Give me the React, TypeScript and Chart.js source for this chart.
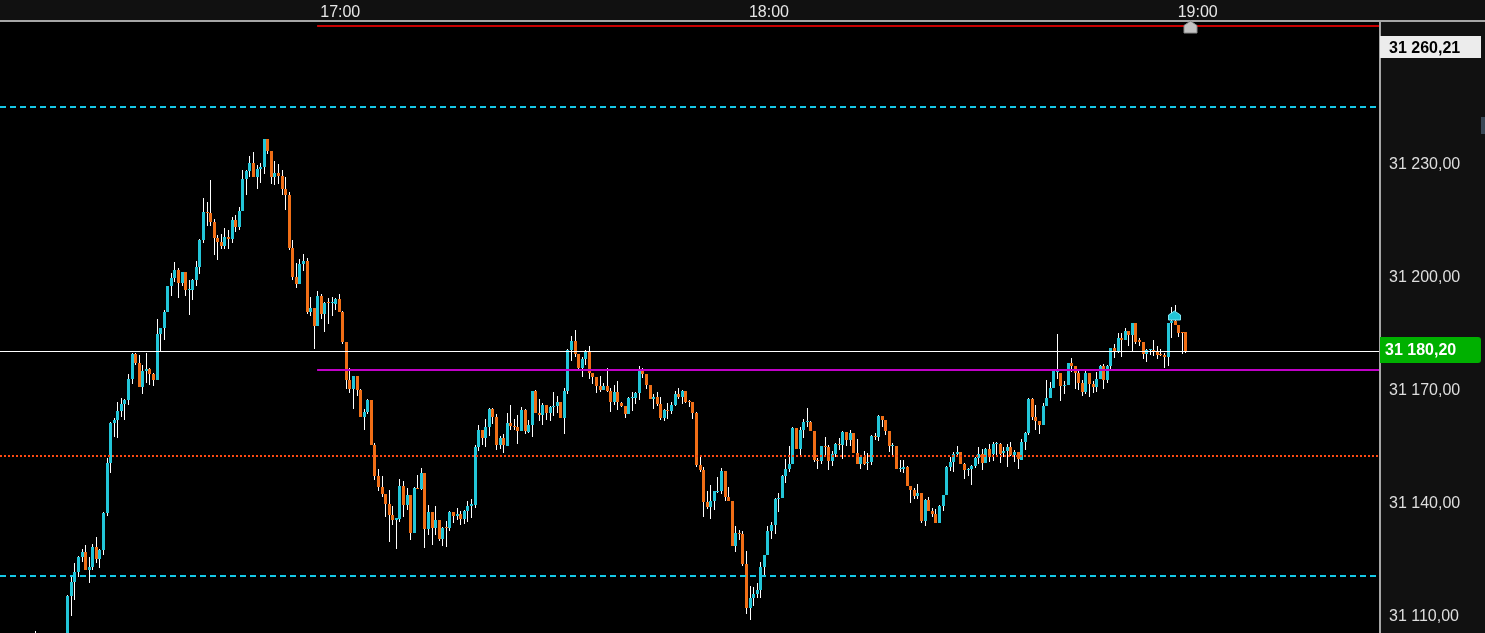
import React, { useEffect, useRef } from 'react';
import { Chart, registerables } from 'chart.js';

Chart.register(...registerables);

// ---- time axis: minutes after 16:00, 30-second bars ----
const firstBarMinute = 17.5; // 16:17:30
const barMinutes = 0.5;
const timeTicks = [60, 120, 180]; // 17:00, 18:00, 19:00

// ---- OHLC ----
const opens = [
  31104.0, 31102.5, 31099.5, 31098.0, 31099.0, 31100.5, 31099.0, 31097.5, 31098.5, 31101.5,
  31115.0, 31118.8, 31121.4, 31125.4, 31126.7, 31121.9, 31122.7, 31128.1, 31124.9, 31127.3,
  31137.1, 31150.4, 31161.0, 31161.8, 31164.2, 31166.0, 31167.1, 31172.7, 31179.3, 31176.9,
  31170.5, 31174.8, 31175.3, 31174.0, 31172.4, 31184.6, 31186.2, 31190.4, 31197.4, 31199.5,
  31201.6, 31198.1, 31201.1, 31196.3, 31196.3, 31198.9, 31202.4, 31209.6, 31217.0, 31216.7,
  31214.3, 31210.1, 31209.0, 31208.0, 31210.4, 31209.8, 31214.9, 31213.0, 31217.3, 31225.8,
  31227.9, 31230.0, 31226.3, 31228.4, 31228.9, 31236.4, 31233.2, 31226.3, 31227.4, 31226.6,
  31223.1, 31221.5, 31207.4, 31199.7, 31197.9, 31203.2, 31204.0, 31190.4, 31191.5, 31186.7,
  31194.7, 31189.9, 31193.1, 31192.8, 31192.6, 31193.9, 31190.4, 31182.5, 31172.4, 31170.0,
  31173.5, 31169.8, 31162.6, 31163.9, 31167.1, 31155.1, 31146.9, 31144.0, 31142.1, 31139.5,
  31136.6, 31135.2, 31135.5, 31144.3, 31139.2, 31141.9, 31131.8, 31143.7, 31143.5, 31147.7,
  31132.8, 31137.3, 31133.1, 31135.2, 31130.2, 31133.4, 31133.1, 31137.3, 31136.3, 31136.8,
  31135.5, 31137.6, 31138.9, 31139.2, 31154.6, 31159.1, 31157.0, 31159.9, 31164.7, 31162.6,
  31155.1, 31157.0, 31154.9, 31161.0, 31160.2, 31159.9, 31158.9, 31164.4, 31158.6, 31160.4,
  31169.5, 31163.6, 31163.1, 31165.8, 31163.6, 31165.2, 31165.5, 31166.6, 31162.3, 31169.5,
  31180.4, 31182.8, 31179.3, 31175.6, 31178.0, 31179.8, 31174.3, 31173.2, 31170.8, 31169.8,
  31170.8, 31169.5, 31166.6, 31169.2, 31166.3, 31165.5, 31163.4, 31167.6, 31167.6, 31168.9,
  31175.1, 31174.0, 31171.1, 31167.4, 31167.9, 31166.0, 31162.3, 31164.4, 31164.2, 31165.8,
  31168.7, 31167.9, 31169.5, 31166.8, 31166.6, 31163.6, 31149.8, 31148.5, 31140.0, 31138.7,
  31140.3, 31142.7, 31142.9, 31148.2, 31141.3, 31140.3, 31128.3, 31131.8, 31131.5, 31123.5,
  31111.9, 31114.5, 31115.6, 31116.7, 31122.7, 31125.9, 31132.3, 31133.9, 31140.8, 31141.1,
  31146.9, 31148.8, 31150.1, 31159.7, 31154.1, 31159.1, 31161.2, 31161.2, 31158.9, 31151.2,
  31150.9, 31154.9, 31154.6, 31150.9, 31152.7, 31155.4, 31155.1, 31158.6, 31156.5, 31158.3,
  31153.0, 31150.1, 31152.0, 31150.4, 31150.6, 31157.5, 31157.3, 31162.8, 31161.8, 31158.9,
  31154.9, 31154.9, 31148.8, 31148.8, 31149.3, 31144.3, 31143.2, 31141.6, 31142.4, 31135.0,
  31140.5, 31137.6, 31136.8, 31134.4, 31138.9, 31141.9, 31149.3, 31150.6, 31152.7, 31153.3,
  31150.1, 31148.5, 31148.8, 31149.6, 31151.7, 31152.7, 31150.4, 31154.1, 31152.7, 31155.4,
  31155.4, 31153.0, 31153.5, 31154.6, 31152.5, 31153.3, 31151.2, 31155.9, 31158.3, 31167.4,
  31162.6, 31161.5, 31160.4, 31165.5, 31167.6, 31170.3, 31174.5, 31174.3, 31170.8, 31171.1,
  31176.9, 31176.1, 31174.3, 31171.6, 31169.2, 31174.3, 31171.3, 31170.5, 31172.7, 31176.1,
  31172.4, 31176.1, 31180.9, 31180.1, 31183.5, 31183.0, 31185.4, 31184.3, 31187.5, 31183.0,
  31182.5, 31179.3, 31180.4, 31180.4, 31180.1, 31179.3, 31179.0, 31178.5, 31187.5, 31188.1,
  31187.0, 31185.1, 31185.1,
];

const highs = [
  31105.8, 31104.0, 31101.5, 31100.5, 31102.0, 31103.0, 31101.0, 31100.0, 31102.5, 31115.3,
  31120.4, 31123.8, 31125.7, 31127.5, 31128.6, 31125.4, 31128.9, 31130.7, 31127.5, 31137.3,
  31151.7, 31161.2, 31162.3, 31166.6, 31167.6, 31167.4, 31174.0, 31179.6, 31179.6, 31179.0,
  31176.4, 31179.6, 31175.6, 31174.3, 31188.5, 31186.2, 31191.0, 31197.4, 31200.8, 31203.7,
  31202.1, 31201.1, 31201.1, 31198.9, 31199.2, 31204.0, 31209.8, 31220.7, 31219.7, 31225.4,
  31215.1, 31210.9, 31211.2, 31212.8, 31212.2, 31215.7, 31216.2, 31218.3, 31228.2, 31228.2,
  31231.9, 31232.9, 31229.5, 31230.0, 31236.4, 31236.4, 31233.2, 31230.5, 31229.7, 31228.2,
  31226.3, 31222.3, 31209.6, 31203.5, 31204.5, 31205.8, 31204.8, 31194.4, 31191.5, 31196.0,
  31195.2, 31193.1, 31194.2, 31194.4, 31194.2, 31195.2, 31190.7, 31182.5, 31175.6, 31173.5,
  31173.5, 31170.0, 31164.7, 31167.4, 31167.1, 31155.7, 31148.8, 31146.9, 31142.1, 31143.2,
  31138.9, 31135.8, 31146.1, 31145.6, 31143.7, 31141.9, 31144.0, 31147.2, 31149.0, 31147.7,
  31139.2, 31137.3, 31138.9, 31135.2, 31133.4, 31135.0, 31137.6, 31137.3, 31138.4, 31137.6,
  31137.9, 31140.3, 31140.8, 31155.1, 31160.5, 31159.1, 31162.0, 31165.0, 31165.0, 31163.4,
  31157.5, 31158.1, 31163.6, 31165.8, 31162.0, 31163.1, 31165.2, 31164.7, 31161.8, 31169.5,
  31169.8, 31167.4, 31166.3, 31165.8, 31165.5, 31169.2, 31168.1, 31166.6, 31170.3, 31180.6,
  31184.1, 31185.7, 31179.3, 31178.5, 31180.4, 31181.4, 31174.3, 31173.2, 31173.5, 31171.6,
  31175.6, 31170.3, 31171.1, 31172.1, 31166.6, 31165.5, 31167.9, 31169.2, 31169.2, 31176.1,
  31175.6, 31174.0, 31171.1, 31168.7, 31169.2, 31167.9, 31164.7, 31166.3, 31166.6, 31169.5,
  31170.3, 31169.8, 31169.5, 31167.1, 31166.6, 31163.9, 31152.0, 31149.3, 31142.9, 31144.5,
  31142.9, 31146.6, 31149.0, 31148.2, 31144.0, 31140.3, 31133.6, 31132.6, 31132.3, 31127.0,
  31117.7, 31117.4, 31118.5, 31124.1, 31125.9, 31133.6, 31134.7, 31141.1, 31142.4, 31147.2,
  31151.4, 31154.9, 31159.9, 31159.7, 31159.9, 31162.0, 31165.0, 31161.5, 31158.9, 31151.7,
  31154.9, 31157.3, 31155.1, 31153.5, 31155.7, 31157.0, 31158.9, 31158.6, 31159.1, 31158.3,
  31156.7, 31152.2, 31153.5, 31153.0, 31157.8, 31158.3, 31163.1, 31162.8, 31161.8, 31158.9,
  31155.7, 31154.9, 31151.2, 31151.2, 31149.6, 31144.3, 31143.7, 31144.8, 31142.4, 31140.8,
  31141.3, 31138.4, 31138.1, 31139.2, 31141.9, 31149.6, 31152.0, 31153.3, 31154.9, 31153.3,
  31150.4, 31149.0, 31149.8, 31152.0, 31154.6, 31154.1, 31154.3, 31155.4, 31155.9, 31155.9,
  31155.7, 31154.6, 31155.4, 31155.9, 31153.8, 31153.3, 31156.7, 31158.6, 31167.6, 31167.6,
  31165.8, 31161.5, 31166.3, 31172.4, 31171.9, 31175.1, 31184.6, 31174.3, 31172.1, 31176.9,
  31178.2, 31176.1, 31174.8, 31172.4, 31175.1, 31174.3, 31172.1, 31174.5, 31176.4, 31176.6,
  31176.4, 31180.9, 31182.0, 31184.9, 31184.9, 31186.2, 31185.4, 31187.5, 31187.5, 31183.5,
  31182.5, 31180.6, 31180.6, 31183.1, 31181.5, 31180.6, 31179.6, 31187.5, 31191.8, 31192.3,
  31187.0, 31185.1, 31185.1,
];

const lows = [
  31100.5, 31098.0, 31096.0, 31095.5, 31097.5, 31098.0, 31096.5, 31095.0, 31097.0, 31100.5,
  31109.7, 31114.0, 31120.1, 31124.1, 31121.9, 31118.5, 31121.9, 31123.8, 31122.5, 31125.9,
  31136.3, 31147.7, 31157.3, 31157.0, 31162.6, 31161.8, 31165.8, 31171.3, 31176.4, 31170.5,
  31168.7, 31171.6, 31171.1, 31170.8, 31172.4, 31179.8, 31183.0, 31190.4, 31194.7, 31198.4,
  31194.2, 31197.4, 31194.7, 31189.7, 31193.6, 31197.4, 31200.5, 31208.8, 31213.3, 31213.3,
  31205.6, 31204.3, 31207.2, 31207.2, 31207.2, 31208.8, 31211.7, 31212.2, 31217.3, 31221.5,
  31226.3, 31226.3, 31223.1, 31224.7, 31227.1, 31232.4, 31224.4, 31224.2, 31224.4, 31221.5,
  31217.5, 31206.9, 31198.9, 31196.8, 31197.9, 31201.3, 31189.9, 31189.4, 31180.6, 31186.7,
  31188.6, 31185.1, 31187.3, 31189.4, 31191.0, 31190.4, 31182.0, 31170.0, 31168.9, 31164.7,
  31168.1, 31162.6, 31159.1, 31163.4, 31155.1, 31145.8, 31142.9, 31141.3, 31136.0, 31129.4,
  31133.9, 31127.5, 31134.7, 31136.0, 31137.9, 31129.9, 31131.8, 31143.5, 31143.2, 31127.8,
  31131.2, 31128.6, 31131.2, 31129.6, 31128.3, 31128.1, 31132.3, 31134.4, 31135.2, 31133.9,
  31134.2, 31134.7, 31135.8, 31138.4, 31153.5, 31155.1, 31154.6, 31157.5, 31160.7, 31153.8,
  31154.1, 31153.0, 31154.9, 31159.1, 31159.1, 31155.4, 31158.9, 31158.1, 31158.3, 31157.3,
  31163.6, 31161.5, 31160.4, 31161.8, 31161.5, 31162.8, 31163.6, 31162.3, 31158.1, 31168.7,
  31177.4, 31178.5, 31175.3, 31173.2, 31176.4, 31172.7, 31171.3, 31168.9, 31169.2, 31169.8,
  31169.2, 31163.9, 31165.8, 31164.4, 31165.2, 31162.3, 31163.4, 31164.2, 31166.0, 31167.1,
  31172.9, 31170.0, 31167.4, 31164.7, 31165.5, 31161.8, 31161.5, 31162.0, 31163.4, 31165.5,
  31167.4, 31166.0, 31166.3, 31165.2, 31162.0, 31149.3, 31148.0, 31136.0, 31138.1, 31135.5,
  31137.9, 31142.4, 31142.1, 31140.3, 31140.3, 31128.3, 31126.7, 31129.9, 31123.0, 31110.3,
  31108.7, 31112.4, 31114.5, 31114.5, 31120.6, 31125.9, 31130.2, 31131.5, 31137.3, 31141.1,
  31145.1, 31148.0, 31150.1, 31154.1, 31152.5, 31157.0, 31159.9, 31158.9, 31150.6, 31148.8,
  31150.1, 31152.5, 31148.5, 31149.6, 31152.0, 31153.8, 31151.4, 31154.9, 31154.9, 31153.0,
  31150.1, 31148.8, 31149.8, 31148.5, 31149.8, 31156.5, 31156.2, 31159.9, 31157.8, 31153.3,
  31152.0, 31148.8, 31148.0, 31147.7, 31144.3, 31139.7, 31140.8, 31140.8, 31134.4, 31133.6,
  31137.6, 31136.0, 31134.4, 31134.4, 31137.6, 31141.9, 31148.2, 31148.0, 31152.2, 31150.1,
  31146.1, 31146.9, 31144.5, 31149.0, 31150.1, 31148.5, 31150.4, 31150.6, 31150.9, 31152.5,
  31150.4, 31152.0, 31149.3, 31152.2, 31150.6, 31148.8, 31151.2, 31153.8, 31157.8, 31161.8,
  31159.1, 31158.1, 31160.4, 31165.5, 31167.6, 31170.3, 31172.7, 31166.8, 31168.7, 31171.1,
  31174.5, 31170.0, 31169.8, 31168.1, 31168.7, 31167.9, 31168.9, 31169.2, 31172.7, 31170.0,
  31171.6, 31175.3, 31178.2, 31179.6, 31178.5, 31183.0, 31181.4, 31180.1, 31182.0, 31181.4,
  31178.0, 31177.2, 31179.0, 31178.8, 31178.0, 31178.8, 31175.6, 31176.1, 31183.6, 31187.0,
  31183.8, 31179.3, 31179.6,
];

const closes = [
  31102.5, 31099.5, 31098.0, 31099.0, 31100.5, 31099.0, 31097.5, 31098.5, 31101.5, 31115.0,
  31118.8, 31121.4, 31125.4, 31126.7, 31121.9, 31122.7, 31128.1, 31124.9, 31127.3, 31137.1,
  31150.4, 31161.0, 31161.8, 31164.2, 31166.0, 31167.1, 31172.7, 31179.3, 31176.9, 31170.5,
  31174.8, 31175.3, 31174.0, 31172.4, 31184.6, 31186.2, 31190.4, 31197.4, 31199.5, 31201.6,
  31198.1, 31201.1, 31196.3, 31196.6, 31198.9, 31202.4, 31209.6, 31217.0, 31216.7, 31214.3,
  31210.1, 31209.0, 31208.0, 31210.4, 31209.8, 31214.9, 31213.0, 31217.3, 31225.8, 31227.9,
  31230.0, 31226.3, 31228.4, 31228.9, 31236.4, 31233.2, 31226.3, 31227.4, 31226.6, 31223.1,
  31221.5, 31207.4, 31199.7, 31197.9, 31203.2, 31204.0, 31190.4, 31191.5, 31186.7, 31194.7,
  31189.9, 31192.8, 31192.8, 31193.1, 31193.9, 31190.4, 31182.5, 31172.4, 31170.0, 31173.5,
  31169.8, 31162.6, 31163.9, 31167.1, 31155.1, 31146.9, 31144.0, 31142.1, 31139.5, 31136.6,
  31135.2, 31135.8, 31144.3, 31139.2, 31141.9, 31131.8, 31143.7, 31143.5, 31147.7, 31132.8,
  31137.3, 31133.1, 31135.2, 31130.2, 31133.1, 31133.1, 31137.3, 31136.3, 31136.8, 31135.5,
  31137.6, 31138.9, 31139.5, 31154.6, 31159.1, 31157.0, 31159.9, 31164.7, 31162.6, 31155.1,
  31157.0, 31155.1, 31161.0, 31160.2, 31159.9, 31158.9, 31164.4, 31158.9, 31160.4, 31169.5,
  31163.6, 31163.1, 31165.8, 31163.6, 31165.2, 31165.5, 31166.6, 31162.3, 31169.5, 31180.4,
  31182.8, 31179.3, 31175.6, 31178.0, 31179.8, 31174.3, 31173.2, 31170.8, 31169.8, 31170.8,
  31169.5, 31166.6, 31169.2, 31166.6, 31165.5, 31163.4, 31167.6, 31167.9, 31168.9, 31175.1,
  31174.0, 31171.1, 31167.4, 31167.9, 31166.0, 31162.3, 31164.4, 31164.2, 31165.8, 31168.7,
  31167.9, 31169.5, 31166.6, 31166.6, 31163.6, 31149.8, 31148.5, 31140.0, 31138.7, 31140.3,
  31142.9, 31142.9, 31148.2, 31141.3, 31140.3, 31128.3, 31131.8, 31131.5, 31123.5, 31111.9,
  31114.5, 31115.6, 31116.7, 31122.7, 31125.9, 31132.3, 31133.9, 31140.8, 31141.1, 31146.9,
  31148.8, 31150.1, 31159.7, 31154.1, 31159.1, 31161.2, 31161.5, 31158.9, 31151.2, 31151.0,
  31154.9, 31154.6, 31150.9, 31152.7, 31155.4, 31155.1, 31158.6, 31156.5, 31158.3, 31153.0,
  31150.1, 31152.0, 31150.1, 31150.6, 31157.5, 31157.3, 31162.8, 31161.8, 31158.9, 31154.9,
  31155.1, 31148.8, 31149.0, 31149.3, 31144.3, 31143.2, 31141.6, 31142.4, 31135.0, 31140.5,
  31137.6, 31136.8, 31134.4, 31138.9, 31141.9, 31149.3, 31150.6, 31152.7, 31153.3, 31150.1,
  31148.5, 31148.8, 31149.6, 31151.7, 31152.7, 31150.4, 31154.1, 31152.0, 31155.4, 31155.7,
  31152.7, 31153.5, 31154.6, 31152.5, 31153.3, 31151.4, 31155.9, 31158.3, 31167.4, 31162.6,
  31161.5, 31160.4, 31165.5, 31167.6, 31170.3, 31174.8, 31174.8, 31170.8, 31171.1, 31176.9,
  31176.1, 31174.3, 31171.6, 31169.2, 31174.3, 31171.3, 31170.5, 31172.7, 31176.1, 31172.4,
  31176.1, 31180.9, 31180.1, 31183.5, 31183.0, 31185.4, 31184.3, 31187.5, 31182.5, 31182.5,
  31179.3, 31180.4, 31180.6, 31180.1, 31179.0, 31179.0, 31178.5, 31187.5, 31188.1, 31187.0,
  31184.9, 31184.9, 31180.2,
];

// ---- horizontal levels (price, start minute or null = whole width) ----
const levelPrices = [31266.5, 31244.9, 31152.2, 31120.36, 31175.05, 31180.2];
const levelStarts: (number | null)[] = [56.9, null, null, null, 56.9, null];

// ---- labels / markers ----
const lastPrice = 31180.2;
const refPrice = 31260.21;
const nowMinute = 179.0;
const signalMinute = 176.85;
const signalPrice = 31188.2;

// ---- styles ----
const CYAN = '#22c5d8';
const ORANGE = '#f06e16';
const FONT = "'Liberation Sans', Arial, sans-serif";
const levelStyles = [
  { color: '#c80000', width: 2, dash: [] as number[] },
  { color: '#16c8e6', width: 2, dash: [6, 4] },
  { color: '#ff4a12', width: 2, dash: [2, 2] },
  { color: '#16c8e6', width: 2, dash: [6, 4] },
  { color: '#c000c8', width: 2, dash: [] as number[] },
  { color: '#ffffff', width: 1, dash: [] as number[] },
];

const fmtPrice = (v: number) => {
  const [int, dec] = v.toFixed(2).split('.');
  return `${int.slice(0, int.length - 3)} ${int.slice(-3)},${dec}`;
};
const fmtTime = (m: number) => {
  const h = 16 + Math.floor(m / 60);
  const mm = Math.round(m % 60);
  return `${h}:${String(mm).padStart(2, '0')}`;
};

function house(ctx: CanvasRenderingContext2D, cx: number, top: number, w: number, h: number, sh: number, fill: string, stroke?: string) {
  ctx.beginPath();
  ctx.moveTo(cx, top);
  ctx.lineTo(cx + w / 2, top + sh);
  ctx.lineTo(cx + w / 2, top + h);
  ctx.lineTo(cx - w / 2, top + h);
  ctx.lineTo(cx - w / 2, top + sh);
  ctx.closePath();
  ctx.fillStyle = fill;
  ctx.fill();
  if (stroke) {
    ctx.strokeStyle = stroke;
    ctx.lineWidth = 1;
    ctx.stroke();
  }
}

const decor = {
  id: 'decor',
  beforeDraw(chart: any) {
    const { ctx, chartArea: a, width, height } = chart;
    ctx.save();
    ctx.fillStyle = '#111111';
    ctx.fillRect(0, 0, width, height);
    ctx.fillStyle = '#000000';
    ctx.fillRect(a.left, a.top, a.right - a.left, a.bottom - a.top);
    ctx.restore();
  },
  beforeDatasetsDraw(chart: any) {
    chart.getSortedVisibleDatasetMetas().forEach((meta: any) => {
      if (meta.type !== 'bar') return;
      meta.data.forEach((el: any) => {
        el.x = Math.round(el.x - 0.5) + 0.5;
        const y = Math.round(el.y);
        let b = Math.round(el.base);
        if (b === y) b = y + 1;
        el.y = y;
        el.base = b;
      });
    });
  },
  afterDatasetsDraw(chart: any) {
    const { ctx, chartArea: a, width, height } = chart;
    const xs = chart.scales.x;
    const ys = chart.scales.y;
    ctx.save();
    ctx.beginPath();
    ctx.rect(a.left, a.top, a.right - a.left, a.bottom - a.top);
    ctx.clip();
    levelPrices.forEach((p, i) => {
      const st = levelStyles[i];
      const py = ys.getPixelForValue(p);
      const y = st.width % 2 === 1 ? Math.round(py) + 0.5 : Math.round(py);
      const s = levelStarts[i];
      const x0 = s == null ? a.left : xs.getPixelForValue(s);
      ctx.beginPath();
      ctx.setLineDash(st.dash);
      ctx.lineDashOffset = 0;
      ctx.strokeStyle = st.color;
      ctx.lineWidth = st.width;
      ctx.moveTo(x0, y);
      ctx.lineTo(a.right, y);
      ctx.stroke();
    });
    ctx.setLineDash([]);
    // signal marker above the bars
    const sx = Math.round(xs.getPixelForValue(signalMinute)) + 0.5;
    const sy = Math.round(ys.getPixelForValue(signalPrice));
    house(ctx, sx, sy - 9, 12, 9, 4, CYAN, '#7fe6f2');
    ctx.restore();

    ctx.save();
    // frame lines
    ctx.fillStyle = '#a6a6a6';
    ctx.fillRect(0, a.top - 1, width, 2);
    ctx.fillRect(a.right - 1, a.top - 1, 2, height - a.top + 1);
    // current time marker on the time axis
    const nx = Math.round(xs.getPixelForValue(nowMinute)) + 0.5;
    house(ctx, nx, a.top, 13, 12, 4.5, '#c4c4c4', '#8a8a8a');
    // small scroll handle on the right edge
    ctx.fillStyle = '#3a4856';
    ctx.fillRect(width - 4, 117, 4, 17);

    // reference price label (white)
    const ry = ys.getPixelForValue(refPrice) - 2;
    ctx.fillStyle = '#ececec';
    ctx.fillRect(a.right, Math.round(ry - 11), 101, 22);
    ctx.fillStyle = '#000000';
    ctx.font = `bold 16px ${FONT}`;
    ctx.textBaseline = 'middle';
    ctx.textAlign = 'left';
    ctx.fillText(fmtPrice(refPrice), a.right + 9, ry + 1);

    // last price label (green)
    const ly = ys.getPixelForValue(lastPrice);
    const top = Math.round(ly - 13.5);
    ctx.fillStyle = '#00b000';
    ctx.beginPath();
    const bx = a.right, bw = 101, bh = 26, r = 3;
    ctx.moveTo(bx, top);
    ctx.lineTo(bx + bw - r, top);
    ctx.quadraticCurveTo(bx + bw, top, bx + bw, top + r);
    ctx.lineTo(bx + bw, top + bh - r);
    ctx.quadraticCurveTo(bx + bw, top + bh, bx + bw - r, top + bh);
    ctx.lineTo(bx, top + bh);
    ctx.closePath();
    ctx.fill();
    ctx.fillStyle = '#ffffff';
    ctx.fillText(fmtPrice(lastPrice), a.right + 5, top + bh / 2 + 1);
    ctx.restore();
  },
};

export default function App() {
  const ref = useRef<HTMLCanvasElement | null>(null);

  useEffect(() => {
    document.body.style.margin = '0';
    document.body.style.background = '#000';
    const canvas = ref.current;
    if (!canvas) return;

    const times = opens.map((_, i) => firstBarMinute + i * barMinutes);
    const bodyColors = opens.map((o, i) => (closes[i] >= o ? CYAN : ORANGE));

    const chart = new Chart(canvas, {
      type: 'bar',
      data: {
        datasets: [
          {
            label: 'body',
            data: times.map((t, i) => ({ x: t, y: [opens[i], closes[i]] })) as any,
            backgroundColor: bodyColors,
            borderWidth: 0,
            barThickness: 3,
            minBarLength: 1,
            grouped: false,
            inflateAmount: 0,
            order: 1,
          } as any,
          {
            label: 'wick',
            data: times.map((t, i) => ({ x: t, y: [lows[i], highs[i]] })) as any,
            backgroundColor: '#ffffff',
            borderWidth: 0,
            barThickness: 1,
            minBarLength: 1,
            grouped: false,
            inflateAmount: 0,
            order: 2,
          } as any,
        ],
      },
      options: {
        responsive: false,
        animation: false,
        devicePixelRatio: 1,
        events: [],
        layout: { padding: 0, autoPadding: false } as any,
        plugins: { legend: { display: false }, tooltip: { enabled: false } },
        scales: {
          x: {
            type: 'linear',
            position: 'top',
            min: 12.52,
            max: 205.66,
            offset: false,
            afterFit: (s: any) => {
              s.height = 21;
              s.paddingLeft = 0;
              s.paddingRight = 0;
            },
            afterBuildTicks: (s: any) => {
              s.ticks = timeTicks.map((v) => ({ value: v }));
            },
            grid: { display: false, drawTicks: false },
            border: { display: false },
            ticks: {
              color: '#e6e6e6',
              font: { family: FONT, size: 16 },
              padding: -1,
              labelOffset: 1,
              maxRotation: 0,
              autoSkip: false,
              callback: (v: any) => fmtTime(Number(v)),
            },
          },
          y: {
            type: 'linear',
            position: 'right',
            min: 31105.23,
            max: 31267.7,
            afterFit: (s: any) => {
              s.width = 105;
              s.paddingTop = 0;
              s.paddingBottom = 0;
            },
            grid: { display: false, drawTicks: false },
            border: { display: false },
            ticks: {
              stepSize: 30,
              includeBounds: false,
              color: '#dedede',
              font: { family: FONT, size: 16 },
              padding: 9,
              labelOffset: 2,
              callback: (v: any) => fmtPrice(Number(v)),
            },
          },
        },
      } as any,
      plugins: [decor],
    });

    return () => chart.destroy();
  }, []);

  return (
    <div style={{ width: 1485, height: 633, position: 'relative', overflow: 'hidden' }}>
      <canvas ref={ref} width={1485} height={633} style={{ display: 'block' }} />
    </div>
  );
}
